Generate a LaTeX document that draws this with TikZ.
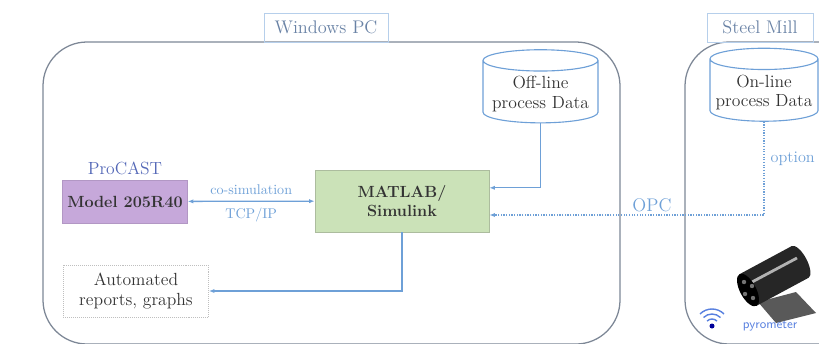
\documentclass[tikz,border=0pt]{standalone}
\usetikzlibrary{shapes.geometric,arrows.meta,positioning}

\definecolor{framecol}{RGB}{125,135,150}
\definecolor{linkcol}{RGB}{110,160,215}
\definecolor{tagcol}{RGB}{105,130,165}
\definecolor{simgreen}{RGB}{203,226,184}
\definecolor{castpurple}{RGB}{198,168,218}

\tikzset{
  frame/.style = {draw=framecol, line width=0.9pt, rounded corners=1.1cm},
  tag/.style = {draw=linkcol!50, thin, text=tagcol, minimum height=0.72cm,
                font=\fontsize{13}{15}\selectfont},
  block/.style = {draw, align=center, text=black!80,
                  font=\bfseries\fontsize{11.5}{14}\selectfont},
  store/.style = {cylinder, shape border rotate=90, aspect=0.2, draw=linkcol,
                  line width=0.8pt, align=center, text=black!80,
                  font=\fontsize{12.5}{14}\selectfont},
  link/.style = {draw=linkcol, line width=0.9pt},
  note/.style = {text=linkcol, font=\fontsize{10}{12}\selectfont}
}

\begin{document}
\begin{tikzpicture}[x=0.025cm, y=-0.025cm, >={Latex[length=4pt,width=3pt]}]
  \useasboundingbox (0,0) rectangle (819,343);
  \clip (0,0) rectangle (819,343);

  % the two sites
  \draw[frame] (43,42) rectangle (620,344);
  \draw[frame] (685,42) rectangle (880,344);
  \node[tag, minimum width=3.1cm] (pc) at (326,27.5) {Windows PC};
  \node[tag, minimum width=2.65cm] (mill) at (760,27.5) {Steel Mill};

  % blocks
  \node[block, fill=simgreen, draw=simgreen!80!black!90, minimum width=4.35cm,
        minimum height=1.55cm] (matlab) at (402,201) {MATLAB/\\ Simulink};
  \node[block, fill=castpurple, draw=castpurple!90!black, minimum width=3cm,
        minimum height=1.075cm] (model) at (125,201.5) {Model 205R40};
  \node[text=tagcol!80!blue, font=\fontsize{12.5}{14}\selectfont,
        above=0pt of model] (procast) {ProCAST};
  \node[draw=black!25, densely dotted, align=center, text=black!80,
        font=\fontsize{12.5}{14}\selectfont, minimum width=3.625cm,
        minimum height=1.3cm] (reports) at (136,291) {Automated\\ reports, graphs};

  % data stores
  \node[store, minimum width=2.875cm, minimum height=1.7cm] (offline)
        at (540.5,94) {Off-line\\ process Data};
  \node[store, minimum width=2.7cm, minimum height=1.6cm] (online)
        at (764,92.5) {On-line\\ process Data};

  % connections
  \draw[link, <->] (model) -- node[note, above=1pt] {co-simulation}
        node[note, below=1pt] {TCP/IP} (matlab);
  \draw[link, ->] (offline.south) |- ([yshift=0.33cm]matlab.east);
  \draw[link, densely dotted, ->] (online.south) |- node[pos=0.2, note, anchor=west,
        font=\fontsize{11.5}{13}\selectfont, xshift=1pt] (opt) {option}
        ([yshift=-0.35cm]matlab.east);
  \node[note, font=\fontsize{13}{15}\selectfont] (opc) at (652,205) {OPC};
  \draw[link, ->] (matlab.south) |- (reports.east);

  % pyrometer
  \fill[black!65] (758,302) -- (796,292) -- (816,313) -- (776,323) -- cycle;
  \fill[black!85] (739.5,274.2) -- (791.5,246.2) -- (808.5,277.8) -- (756.5,305.8) -- cycle;
  \fill[black!85, rotate around={28:(800,262)}] (800,262) ellipse [x radius=7, y radius=18];
  \draw[white!70!black, line width=2pt] (752,282) -- (797,258);
  \fill[black, rotate around={28:(748,290)}] (748,290) ellipse [x radius=8, y radius=18];
  \foreach \dx/\dy in {-4/-8, 4/-4, -3/4, 5/8}
    \fill[black!55] (748+\dx,290+\dy) circle [radius=2.2];
  \fill[blue!60!black] (712,326) circle [radius=2.5];
  \foreach \r in {7,12,17}
    \draw[linkcol!80!blue, line width=1pt] (712,326) ++(-135:\r)
      arc[start angle=-135, end angle=-45, radius=\r];
  \node[text=linkcol!80!blue, font=\sffamily\fontsize{9}{10}\selectfont,
        anchor=west] (pyro) at (738,326) {pyrometer};
\end{tikzpicture}
\end{document}
